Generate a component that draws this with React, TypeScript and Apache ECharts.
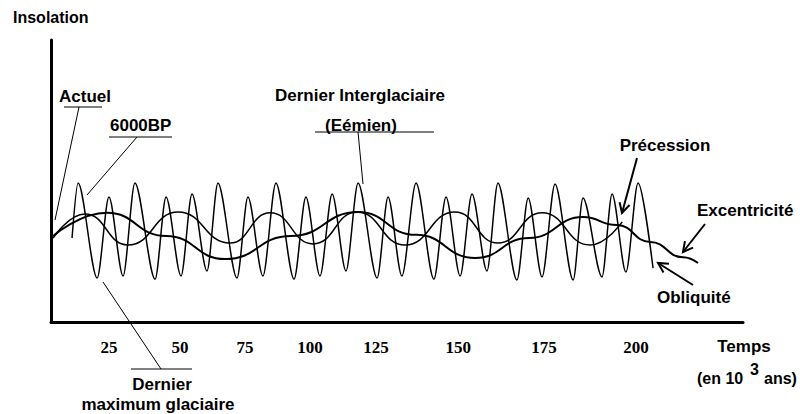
import React, { useEffect, useRef } from "react";
import * as echarts from "echarts";

// x in drawing time units (schematic), y in relative insolation units
const precessionX = [7.3, 9.4, 16.0, 20.1, 25.0, 29.1, 36.1, 39.9, 45.1, 48.9, 54.1, 57.9, 64.5, 68.3, 73.5, 78.0, 84.3, 88.4, 93.3, 97.5, 102.3, 106.5, 113.1, 116.9, 121.7, 126.6, 132.8, 137.0, 141.9, 146.0, 151.2, 155.0, 161.6, 165.5, 170.3, 174.8, 181.1, 184.5, 191.1, 194.6, 199.4, 203.6, 208.8];
const precessionY = [29.8, 49.3, 15.6, 44.3, 16.3, 49.3, 15.2, 44.3, 16.3, 45.4, 18.1, 49.3, 15.6, 44.3, 16.3, 49.3, 15.2, 44.3, 16.3, 45.4, 18.1, 49.3, 15.6, 44.3, 16.3, 49.3, 15.2, 44.3, 16.3, 45.4, 18.1, 49.3, 14.9, 44.0, 16.0, 48.9, 14.9, 44.0, 16.0, 45.4, 17.7, 49.3, 19.1];

const obliquityX = [0.7, 11.8, 26.7, 44.1, 62.1, 76.0, 90.9, 106.1, 122.8, 140.1, 155.0, 170.3, 187.0, 198.1];
const obliquityY = [29.8, 38.3, 27.3, 39.0, 28.0, 38.7, 27.7, 39.0, 27.3, 39.0, 28.0, 38.7, 27.3, 35.5];

const eccentricityX = [0.7, 19.4, 39.9, 60.4, 83.2, 106.5, 126.6, 147.1, 165.8, 184.5, 196.3, 207.8, 219.2, 224.4];
const eccentricityY = [30.5, 38.7, 30.5, 22.3, 30.5, 39.0, 30.9, 22.7, 29.8, 37.2, 34.4, 28.4, 23.0, 20.9];

const tickLabels = ["25", "50", "75", "100", "125", "150", "175", "200"];
const tickPositions = [20.1, 44.7, 67.3, 89.8, 112.7, 141.2, 171.0, 202.9];

const pairs = (xs: number[], ys: number[]) => xs.map((x, i) => [x, ys[i]]);

const FONT = 'bold 17px "Liberation Sans", Arial, sans-serif';
const FONT16 = 'bold 16px "Liberation Sans", Arial, sans-serif';

function txt(text: string, x: number, y: number, align: string = "left", font: string = FONT) {
  return {
    type: "text",
    x,
    y,
    silent: true,
    style: { text, font, fill: "#000", textAlign: align, textVerticalAlign: "middle" },
  };
}

function seg(x1: number, y1: number, x2: number, y2: number, w = 1) {
  return {
    type: "line",
    silent: true,
    shape: { x1, y1, x2, y2 },
    style: { stroke: "#000", lineWidth: w },
  };
}

function arrow(tx: number, ty: number, hx: number, hy: number, w = 2) {
  const dx = hx - tx;
  const dy = hy - ty;
  const len = Math.sqrt(dx * dx + dy * dy);
  const ux = dx / len;
  const uy = dy / len;
  const L = 11;
  const a = (28 * Math.PI) / 180;
  const rot = (ang: number) => [
    hx - L * (ux * Math.cos(ang) - uy * Math.sin(ang)),
    hy - L * (ux * Math.sin(ang) + uy * Math.cos(ang)),
  ];
  return [
    seg(tx, ty, hx, hy, w),
    {
      type: "polyline",
      silent: true,
      shape: { points: [rot(a), [hx, hy], rot(-a)] },
      style: { stroke: "#000", lineWidth: w, fill: null },
    },
  ];
}

export default function App() {
  const ref = useRef<HTMLDivElement>(null);

  useEffect(() => {
    if (!ref.current) return;
    const chart = echarts.init(ref.current, null, { renderer: "svg" });
    const nearestLabel = (v: number) => {
      let best = 0;
      for (let i = 0; i < tickPositions.length; i++) {
        if (Math.abs(tickPositions[i] - v) < Math.abs(tickPositions[best] - v)) best = i;
      }
      return tickLabels[best];
    };
    const lineSeries = (name: string, data: number[][], width: number, smooth: any) => ({
      name,
      type: "line",
      data,
      symbol: "none",
      smooth,
      smoothMonotone: "x",
      silent: true,
      lineStyle: { color: "#000", width },
      z: 3,
    });

    chart.setOption({
      animation: false,
      backgroundColor: "#fff",
      grid: { left: 51, right: 57, top: 40, bottom: 92, containLabel: false },
      xAxis: {
        type: "value",
        min: 0,
        max: 240,
        axisLine: { show: true, onZero: false, lineStyle: { color: "#000", width: 3 } },
        axisTick: { show: false },
        splitLine: { show: false },
        axisLabel: {
          show: true,
          customValues: tickPositions,
          formatter: (v: number) => nearestLabel(v),
          margin: 17,
          color: "#000",
          fontFamily: '"Liberation Serif", "Times New Roman", serif',
          fontWeight: "bold",
          fontSize: 17,
        },
      },
      yAxis: {
        type: "value",
        min: 0,
        max: 100,
        axisLine: { show: true, onZero: false, lineStyle: { color: "#000", width: 3 } },
        axisTick: { show: false },
        splitLine: { show: false },
        axisLabel: { show: false },
      },
      series: [
        lineSeries("Précession", pairs(precessionX, precessionY), 1.5, 0.3),
        lineSeries("Obliquité", pairs(obliquityX, obliquityY), 1.5, 0.5),
        lineSeries("Excentricité", pairs(eccentricityX, eccentricityY), 2, 0.5),
      ],
      graphic: {
        elements: [
          txt("Insolation", 13, 17, "left", FONT16),
          txt("Actuel", 59, 96),
          seg(64, 107, 102, 107),
          seg(79, 107, 55, 220),
          txt("6000BP", 110, 125),
          seg(109, 137, 172, 137),
          seg(137, 137, 87, 195),
          txt("Dernier Interglaciaire", 360, 95, "center"),
          txt("(Eémien)", 361, 125, "center"),
          seg(315, 132, 434, 132),
          seg(358, 132, 363, 184),
          txt("Précession", 665, 145, "center"),
          ...arrow(637, 158, 622, 213),
          txt("Excentricité", 697, 210),
          ...arrow(705, 224, 683, 252),
          txt("Obliquité", 657, 297),
          ...arrow(693, 285, 658, 263),
          txt("Temps", 744, 346, "center"),
          txt("(en 10", 697, 378, "left", FONT16),
          txt("3", 750, 369, "left", FONT16),
          txt("ans)", 764, 378, "left", FONT16),
          seg(131, 369, 192, 369),
          seg(161, 369, 103, 282),
          txt("Dernier", 162, 384, "center"),
          txt("maximum glaciaire", 158, 404, "center"),
        ],
      },
    });
    return () => chart.dispose();
  }, []);

  return (
    <div
      ref={ref}
      style={{ position: "absolute", left: 0, top: 0, width: 800, height: 414, background: "#fff" }}
    />
  );
}
